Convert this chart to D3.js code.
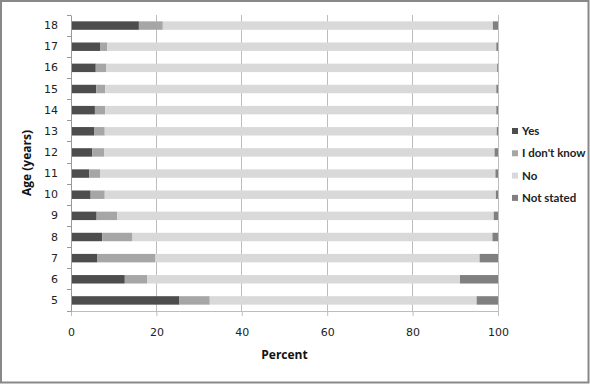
<!doctype html>
<html lang="en">
<head>
  <meta charset="utf-8">
  <title>Age by answer</title>
  <style>
    body { margin:0; background:#fff; }
    svg { display:block; }
    .tick text { font-family: "DejaVu Sans", Verdana, sans-serif; font-size:11px; fill:#222; }
    .ttl { font-family: "Open Sans", Lato, sans-serif; font-weight:bold; font-size:12px; fill:#111; }
    .leg { font-family: Lato, "Open Sans", sans-serif; font-weight:bold; font-size:11.5px; fill:#222; }
  </style>
</head>
<body>
<div id="chart"></div>
<script src="https://cdn.jsdelivr.net/npm/d3@7"></script>
<script>
// ages 5..18, values in percent
var ages = ["5","6","7","8","9","10","11","12","13","14","15","16","17","18"];
var yes       = [25.4, 12.6,  6.2,  7.3,  6.0,  4.6,  4.3,  5.0,  5.5,  5.6,  5.9,  5.8,  6.9, 15.9];
var dontKnow  = [ 7.1,  5.2, 13.6,  7.1,  4.8,  3.3,  2.5,  2.8,  2.4,  2.4,  2.1,  2.4,  1.6,  5.6];
var no        = [62.5, 73.3, 75.9, 84.3, 88.2, 91.6, 92.6, 91.4, 91.8, 91.6, 91.6, 91.6, 91.1, 77.3];
var notStated = [ 5.0,  8.9,  4.3,  1.3,  1.0,  0.5,  0.6,  0.8,  0.3,  0.4,  0.4,  0.2,  0.4,  1.2];
var seriesNames = ["Yes", "I don't know", "No", "Not stated"];
var xTicks = [0, 20, 40, 60, 80, 100];

var colors = ["#4d4d4d", "#a6a6a6", "#d9d9d9", "#808080"];
var W = 590, H = 384;
var margin = {top: 15, right: 92, bottom: 73, left: 71};

var svg = d3.select("#chart").append("svg").attr("width", W).attr("height", H);

// outer frame
svg.append("rect").attr("x", 1).attr("y", 1).attr("width", W - 2.5).attr("height", H - 2.5)
  .attr("fill", "none").attr("stroke", "#888").attr("stroke-width", 2);

var g = svg.append("g").attr("transform", "translate(" + margin.left + "," + margin.top + ")");
var iw = W - margin.left - margin.right, ih = H - margin.top - margin.bottom;

var x = d3.scaleLinear().domain([0, 100]).range([0, iw]);
var y = d3.scaleBand().domain(ages.slice().reverse()).range([0, ih]).paddingInner(0.6).paddingOuter(0.3);

// gridlines
g.selectAll(".grid").data(xTicks.slice(1)).enter().append("line")
  .attr("x1", d => x(d)).attr("x2", d => x(d)).attr("y1", 0).attr("y2", ih)
  .attr("stroke", "#bdbdbd").attr("stroke-width", 1).attr("shape-rendering", "crispEdges");

// stacked data
var rows = ages.map((a, i) => ({age: a, "Yes": yes[i], "I don't know": dontKnow[i], "No": no[i], "Not stated": notStated[i]}));
var stack = d3.stack().keys(seriesNames)(rows);

g.selectAll(".series").data(stack).enter().append("g")
  .attr("fill", (d, i) => colors[i])
  .selectAll("rect").data(d => d).enter().append("rect")
  .attr("x", d => x(d[0])).attr("width", d => x(d[1]) - x(d[0]))
  .attr("y", d => y(d.data.age)).attr("height", y.bandwidth());

// axes
var xAxis = g.append("g").attr("transform", "translate(0," + ih + ")")
  .call(d3.axisBottom(x).tickValues(xTicks).tickSize(5).tickPadding(12));
xAxis.select(".domain").remove();
xAxis.selectAll(".tick line").attr("stroke", "#bdbdbd");
g.append("line").attr("x1", -4).attr("x2", iw).attr("y1", ih).attr("y2", ih)
  .attr("stroke", "#bdbdbd").attr("shape-rendering", "crispEdges");

var yAxis = g.append("g").call(d3.axisLeft(y).tickSize(0).tickPadding(13));
yAxis.select(".domain").attr("stroke", "#999");
// tick marks at band boundaries
var step = y.step();
g.selectAll(".ytick").data(d3.range(ages.length + 1)).enter().append("line")
  .attr("x1", -4).attr("x2", 0)
  .attr("y1", d => d * step).attr("y2", d => d * step)
  .attr("stroke", "#999").attr("shape-rendering", "crispEdges");

// titles
svg.append("text").attr("class", "ttl").attr("x", margin.left + iw / 2).attr("y", 359)
  .attr("text-anchor", "middle").text("Percent");
svg.append("text").attr("class", "ttl").attr("transform", "translate(31," + (margin.top + ih / 2) + ") rotate(-90)")
  .attr("text-anchor", "middle").text("Age (years)");

// legend
var leg = svg.append("g").attr("transform", "translate(512,131)");
seriesNames.forEach(function (s, i) {
  var r = leg.append("g").attr("transform", "translate(0," + (i * 22.3) + ")");
  r.append("rect").attr("x", 0).attr("y", -3).attr("width", 6).attr("height", 6).attr("fill", colors[i]);
  r.append("text").attr("class", "leg").attr("x", 10).attr("y", 4).text(s);
});
</script>
</body>
</html>
